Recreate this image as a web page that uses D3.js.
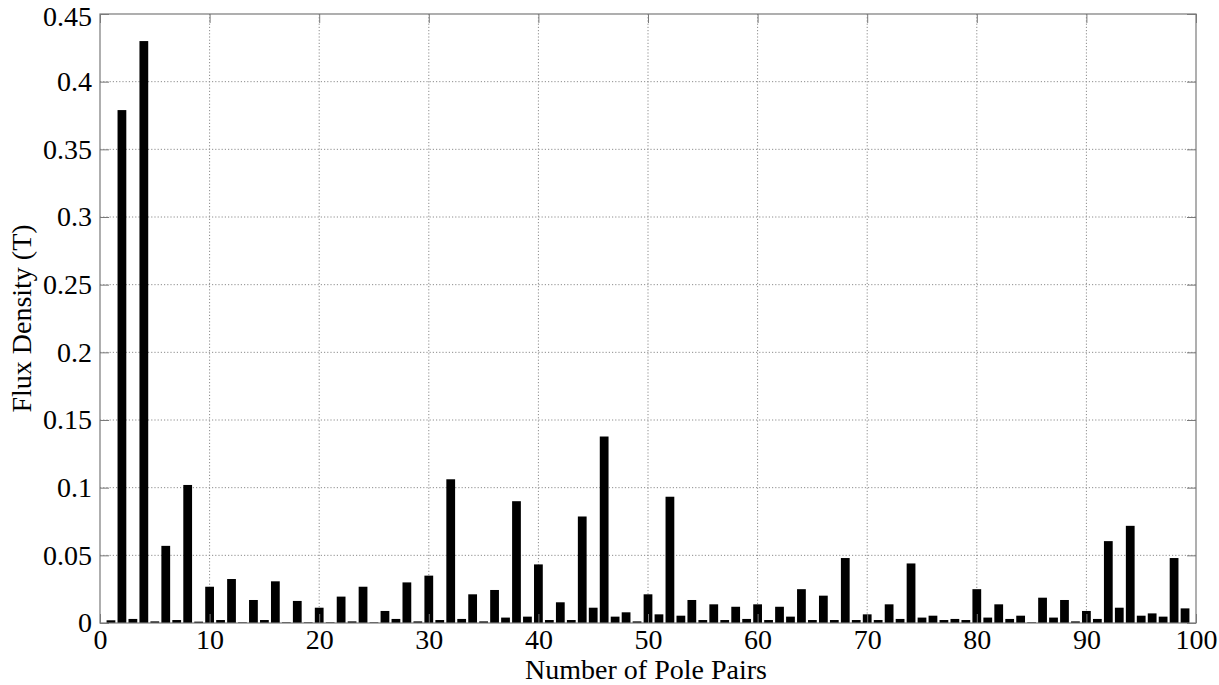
<!DOCTYPE html>
<html>
<head>
<meta charset="utf-8">
<script src="https://cdn.jsdelivr.net/npm/d3@7"></script>
<style>
  body { margin: 0; background: #fff; }
  .tick text { font-family: "Liberation Serif", "Times New Roman", serif; font-size: 28px; fill: #000; }
  .label { font-family: "Liberation Serif", "Times New Roman", serif; font-size: 28px; fill: #000; }
</style>
</head>
<body>
<div id="chart"></div>
<script>
// pole pair numbers 1..99
const polePairs = d3.range(1, 100);
// flux density (T) per pole pair
const fluxDensity = [
  0.002, 0.379, 0.003, 0.430, 0.0012, 0.057, 0.0022, 0.102, 0.001, 0.0268,
  0.0022, 0.0325, 0.0005, 0.017, 0.0022, 0.0308, 0.0005, 0.0163, 0.0005, 0.0113,
  0.0005, 0.0195, 0.0012, 0.0268, 0.0005, 0.0089, 0.003, 0.030, 0.0012, 0.035,
  0.0022, 0.1062, 0.003, 0.0212, 0.0012, 0.0244, 0.004, 0.090, 0.0047, 0.0433,
  0.0022, 0.0153, 0.0022, 0.0787, 0.0113, 0.1378, 0.0047, 0.0079, 0.0012, 0.0212,
  0.0064, 0.0933, 0.0054, 0.017, 0.0022, 0.0138, 0.0022, 0.012, 0.003, 0.0138,
  0.0022, 0.012, 0.0047, 0.025, 0.0022, 0.0202, 0.0022, 0.048, 0.0022, 0.0064,
  0.0022, 0.0138, 0.003, 0.044, 0.004, 0.0054, 0.0022, 0.003, 0.0022, 0.025,
  0.004, 0.0138, 0.003, 0.0054, 0.0005, 0.0187, 0.004, 0.017, 0.0012, 0.0089,
  0.003, 0.0605, 0.0113, 0.0718, 0.0054, 0.0071, 0.0047, 0.048, 0.0108
];
const xTicks = d3.range(0, 101, 10);
const yTicks = [0, 0.05, 0.1, 0.15, 0.2, 0.25, 0.3, 0.35, 0.4, 0.45];

const W = 1219, H = 685;
const margin = {top: 14, right: 23, bottom: 62, left: 100},
      width = W - margin.left - margin.right,
      height = H - margin.top - margin.bottom;

const svg = d3.select("#chart")
  .append("svg")
  .attr("width", W)
  .attr("height", H)
  .append("g")
  .attr("transform", "translate(" + margin.left + "," + margin.top + ")");

const x = d3.scaleLinear().domain([0, 100]).range([0, width]);
const y = d3.scaleLinear().domain([0, 0.45]).range([height, 0]);

// grid
svg.append("g")
  .selectAll("line")
  .data(xTicks.slice(1, -1))
  .join("line")
  .attr("x1", d => x(d)).attr("x2", d => x(d))
  .attr("y1", 0).attr("y2", height)
  .style("stroke", "#8c8c8c")
  .style("stroke-dasharray", "1.2,2")
  .style("stroke-width", 1);

svg.append("g")
  .selectAll("line")
  .data(yTicks.slice(1, -1))
  .join("line")
  .attr("x1", 0).attr("x2", width)
  .attr("y1", d => y(d)).attr("y2", d => y(d))
  .style("stroke", "#8c8c8c")
  .style("stroke-dasharray", "1.2,2")
  .style("stroke-width", 1);

// bars
const bw = x(0.8) - x(0);
svg.append("g")
  .selectAll("rect")
  .data(polePairs)
  .join("rect")
  .attr("x", (d) => x(d) - bw / 2)
  .attr("width", bw)
  .attr("y", (d, i) => y(fluxDensity[i]))
  .attr("height", (d, i) => y(0) - y(fluxDensity[i]))
  .style("fill", "#000");

// axes (inward ticks, MATLAB style)
const xAxis = d3.axisBottom(x).tickValues(xTicks).tickFormat(d3.format("d")).tickSizeInner(-9).tickSizeOuter(0).tickPadding(11);
const yAxis = d3.axisLeft(y).tickValues(yTicks).tickFormat(d => String(d)).tickSizeInner(-9).tickSizeOuter(0).tickPadding(8);

const gx = svg.append("g")
  .attr("class", "axis axis-x")
  .attr("transform", "translate(0," + height + ")")
  .call(xAxis);
const gy = svg.append("g")
  .attr("class", "axis axis-y")
  .call(yAxis);

svg.append("g")
  .call(d3.axisTop(x).tickValues(xTicks).tickFormat("").tickSizeInner(-9).tickSizeOuter(0));
svg.append("g")
  .attr("transform", "translate(" + width + ",0)")
  .call(d3.axisRight(y).tickValues(yTicks).tickFormat("").tickSizeInner(-9).tickSizeOuter(0));

svg.selectAll(".domain").remove();
svg.selectAll(".tick line").style("stroke", "#7a7a7a");
gx.selectAll(".tick text").attr("dy", "0.55em");
// keep the top label inside the page
gy.selectAll(".tick text").filter(d => d === 0.45).attr("dy", "0.4em");

// box
svg.append("rect")
  .attr("x", 0).attr("y", 0)
  .attr("width", width).attr("height", height)
  .style("fill", "none")
  .style("stroke", "#7a7a7a")
  .style("stroke-width", 1.2);

// labels
svg.append("text")
  .attr("class", "label")
  .attr("x", width / 2 - 2)
  .attr("y", height + 56)
  .attr("text-anchor", "middle")
  .text("Number of Pole Pairs");

svg.append("text")
  .attr("class", "label")
  .attr("transform", "translate(" + (-69) + "," + (height / 2) + ") rotate(-90)")
  .attr("text-anchor", "middle")
  .text("Flux Density (T)");
</script>
</body>
</html>
